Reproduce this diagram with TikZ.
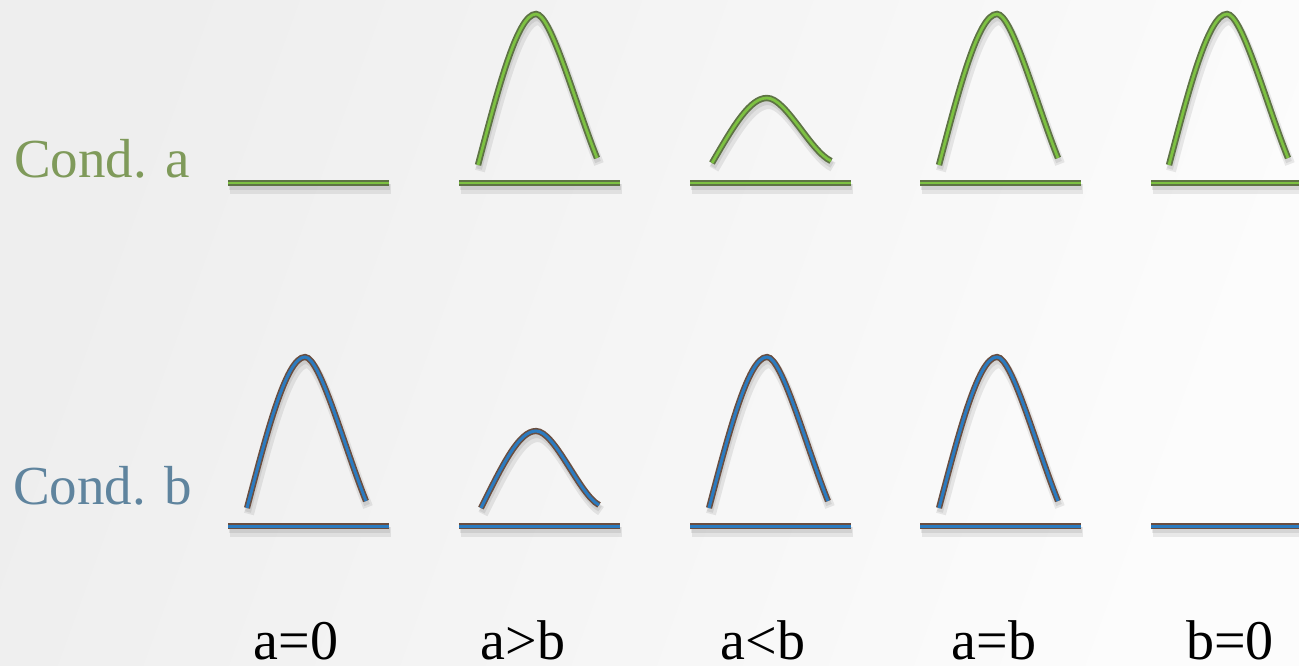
\documentclass[tikz,border=0pt]{standalone}
\usepackage{fontspec}
\setmainfont{Liberation Serif}
\definecolor{bgl}{HTML}{EEEEEE}
\definecolor{bgr}{HTML}{FCFCFC}
\definecolor{gin}{HTML}{7DC142}
\definecolor{gout}{HTML}{5E7345}
\definecolor{bin}{HTML}{2B7BC0}
\definecolor{bout}{HTML}{6A4E40}
\definecolor{txa}{HTML}{7F9A5A}
\definecolor{txb}{HTML}{5F849E}
\tikzset{
  greenline/.style={draw=gout, line width=1.8pt, double=gin, double distance=2.8pt},
  blueline/.style={draw=bout, line width=1.6pt, double=bin, double distance=3pt},
  shadowline/.style={draw=black, opacity=0.08, line width=10pt},
  condlbl/.style={anchor=base west, font=\fontsize{55}{60}\selectfont, inner sep=0pt},
  caselbl/.style={anchor=base, font=\fontsize{56}{60}\selectfont, inner sep=0pt, text=black},
}
\newcommand{\bigpath}{(-61,-18) .. controls (-42,-90) and (-22,-169) .. (-3,-169) .. controls (12,-169) and (36,-80) .. (58,-25)}
\newcommand{\smallpathA}{(-58,-20) .. controls (-36,-58) and (-20,-85) .. (-3,-85) .. controls (16,-85) and (40,-32) .. (61,-22)}
\newcommand{\smallpathB}{(-58,-18) .. controls (-36,-62) and (-20,-95) .. (-3,-95) .. controls (16,-95) and (40,-32) .. (60,-21)}
\newcommand{\flatpath}{(-80,0) -- (81,0)}
\newcommand{\shape}[3]{%
  \begin{scope}[shift={(#1)}]
    \path[shadowline] [shift={(2,6)}] #2;
    \path[shadowline, line width=6pt] [shift={(1,4)}] #2;
    \path[#3] #2;
  \end{scope}}
\begin{document}
\begin{tikzpicture}[x=1pt, y=-1pt]
\useasboundingbox (0,0) rectangle (1299,665);
\clip (0,0) rectangle (1299,665);
\shade[left color=bgl, right color=bgr, shading angle=70] (0,0) rectangle (1299,665);
% row a
\node[condlbl, text=txa] (conda) at (14,177) {Cond. a};
\shape{308,183}{\flatpath}{greenline}
\shape{539,183}{\flatpath}{greenline}
\shape{539,183}{\bigpath}{greenline}
\shape{770,183}{\flatpath}{greenline}
\shape{770,183}{\smallpathA}{greenline}
\shape{1000,183}{\flatpath}{greenline}
\shape{1000,183}{\bigpath}{greenline}
\shape{1231,183}{\flatpath}{greenline}
\shape{1230,183}{\bigpath}{greenline}
% row b
\node[condlbl, text=txb] (condb) at (13,504) {Cond. b};
\shape{308,526}{\flatpath}{blueline}
\shape{308,526}{\bigpath}{blueline}
\shape{539,526}{\flatpath}{blueline}
\shape{539,526}{\smallpathB}{blueline}
\shape{770,526}{\flatpath}{blueline}
\shape{770,526}{\bigpath}{blueline}
\shape{1000,526}{\flatpath}{blueline}
\shape{1000,526}{\bigpath}{blueline}
\shape{1231,526}{\flatpath}{blueline}
% case labels
\node[caselbl] (c1) at (296,659) {a=0};
\node[caselbl] (c2) at (523,659) {a>b};
\node[caselbl] (c3) at (763,659) {a<b};
\node[caselbl] (c4) at (994,659) {a=b};
\node[caselbl] (c5) at (1230,659) {b=0};
\end{tikzpicture}
\end{document}
